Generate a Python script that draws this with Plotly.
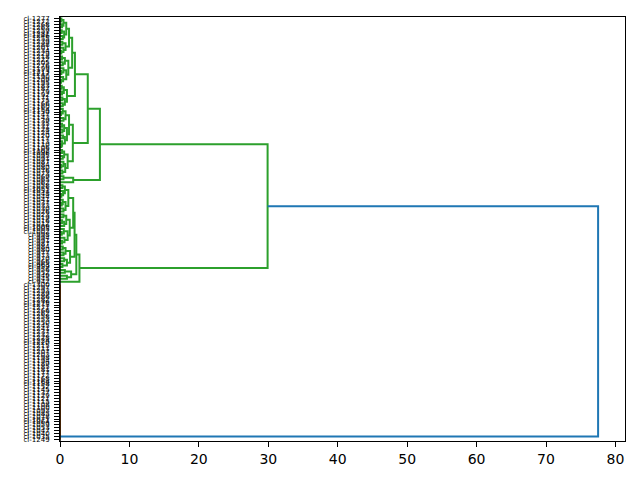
import plotly.graph_objects as go

# ---------------- data ----------------
LABEL_PREFIX = "cl-"

# Sub-clusters of the big (green) branch: [merge height, upper child, lower child]; ints = leaf ids
E1 = [1.3,
      [0.9, [0.5, [0.2, 1277, 1272], [0.3, 1268, 1263]], [0.6, [0.25, 1259, 1281], [0.4, 1246, 1255]]],
      [0.8, [0.35, 1239, 1288], [0.5, 1201, [0.2, 1234, 1229]]]]
E2 = [1.2,
      [0.7, [0.3, 1218, 1222], [0.4, 1205, 1276]],
      [0.9, [0.5, 1199, [0.2, 1213, 1217]], [0.45, 1190, [0.15, 1209, 1195]]]]
D2 = [1.0,
      [0.55, [0.25, 1183, 1187], [0.3, 1179, 1192]],
      [0.7, [0.35, 1171, 1175], [0.4, 1166, 1160]]]
F1 = [1.3,
      [0.8, [0.4, 1154, [0.15, 1150, 1147]], [0.5, 1143, 1139]],
      [1.0, [0.6, [0.3, 1135, 1131], [0.35, 1128, 1124]],
       [0.7, [0.45, 1120, 1117], [0.3, 1113, [0.2, 1110, 1106]]]]]
F2 = [1.1,
      [0.6, [0.3, 1102, 1098], [0.4, 1095, 1091]],
      [0.75, [0.5, 1087, [0.2, 1084, 1080]], [0.35, 1076, 1073]]]
B2 = [1.9, [0.5, 1069, 1065], 1062]
I1 = [1.2,
      [0.7, [0.35, 1058, 1055], [0.45, 1051, [0.2, 1048, 1044]]],
      [0.8, [0.4, 1041, [0.25, 1037, 1033]], [0.5, 1030, 1026]]]
I2 = [1.4,
      [0.9, [0.5, 1023, 1019], [0.6, [0.3, 1016, 1012], 1009]],
      [1.1, [0.55, 1005, [0.25, 1002, 998]], [0.65, 994, [0.3, 991, 987]]]]
H2 = [1.45,
      [0.8, [0.4, 984, 980], [0.5, 977, 973]],
      [1.0, [0.6, 970, 966], [0.35, 963, 959]]]
G2 = [1.6, [0.7, 956, 952], [1.0, 949, 945]]
LONE_LEAF = 942

# upper-level merge heights
h_D1, h_C1, h_C2, h_B1, h_A1 = 1.75, 2.15, 1.85, 4.0, 5.75
h_H1, h_G1, h_A2a, h_A2 = 1.9, 2.1, 2.35, 2.8
h_A = 29.9
h_root = 77.5

# duplicated points merged at distance 0 (bottom cluster)
zero_group_ids = [1300, 1297, 1293, 1289, 1286, 1282, 1279, 1275, 1271, 1266,
                  1262, 1258, 1253, 1250, 1245, 1241, 1237, 1232, 1228, 1224,
                  1220, 1215, 1211, 1207, 1203, 1198, 1194, 1189, 1185, 1181,
                  1177, 1172, 1168, 1164, 1158, 1152, 1145, 1137, 1129, 1121,
                  1115, 1108, 1100, 1093, 1085, 1078, 1071, 1064, 1059, 1053,
                  1047, 1040, 1035, 1249]
zero_group_heights = [0.0, 0.0, 0.0, 0.0, 0.0, 0.0, 0.0, 0.0, 0.0, 0.0,
                      0.0, 0.0, 0.0, 0.0, 0.0, 0.0, 0.0, 0.0, 0.0, 0.0,
                      0.0, 0.0, 0.0, 0.0, 0.0, 0.0, 0.0, 0.0, 0.0, 0.0,
                      0.0, 0.0, 0.0, 0.0, 0.0, 0.0, 0.0, 0.0, 0.0, 0.0,
                      0.0, 0.0, 0.0, 0.0, 0.0, 0.0, 0.0, 0.0, 0.0, 0.0,
                      0.0, 0.0, 0.0]

x_ticks = [0, 10, 20, 30, 40, 50, 60, 70, 80]

COLOR_ABOVE = "#1f77b4"
COLOR_Z = "#ff7f0e"
COLOR_A = "#2ca02c"

# ---------------- tree assembly ----------------
D1 = [h_D1, E1, E2]
C1 = [h_C1, D1, D2]
C2 = [h_C2, F1, F2]
B1 = [h_B1, C1, C2]
A1 = [h_A1, B1, B2]
H1 = [h_H1, I1, I2]
G1 = [h_G1, H1, H2]
A2a = [h_A2a, G1, G2]
A2 = [h_A2, A2a, LONE_LEAF]
A = [h_A, A1, A2]

Z = zero_group_ids[0]
for leaf, h in zip(zero_group_ids[1:], zero_group_heights):
    Z = [h, Z, leaf]


def count(node):
    return 1 if isinstance(node, int) else count(node[1]) + count(node[2])


n = count(A) + count(Z)
order = []
segs = {COLOR_ABOVE: ([], []), COLOR_A: ([], []), COLOR_Z: ([], [])}


def walk(node, color):
    if isinstance(node, int):
        i = len(order)
        order.append(node)
        return 10 * n - 5 - 10 * i, 0.0
    h, up, lo = node
    yu, hu = walk(up, color)
    yl, hl = walk(lo, color)
    xs, ys = segs[color]
    xs += [hu, h, h, hl, None]
    ys += [yu, yu, yl, yl, None]
    return (yu + yl) / 2, h


ya, ha = walk(A, COLOR_A)
yz, hz = walk(Z, COLOR_Z)
xs, ys = segs[COLOR_ABOVE]
xs += [ha, h_root, h_root, hz, None]
ys += [ya, ya, yz, yz, None]

tick_vals = [10 * n - 5 - 10 * i for i in range(n)]
tick_text = [LABEL_PREFIX + str(v) for v in order]

# ---------------- figure ----------------
fig = go.Figure()
for color in (COLOR_Z, COLOR_A, COLOR_ABOVE):
    fx, fy = segs[color]
    fig.add_trace(go.Scatter(x=fx, y=fy, mode="lines",
                             line=dict(color=color, width=2),
                             hoverinfo="skip", showlegend=False))

fig.update_layout(
    width=640, height=480,
    margin=dict(l=60, r=15, t=17, b=39),
    paper_bgcolor="white", plot_bgcolor="white",
    font=dict(family="DejaVu Sans", color="black"),
    showlegend=False,
    shapes=[dict(type="line", xref="x", yref="paper", x0=0, x1=0, y0=0, y1=1,
                 line=dict(color="black", width=1.5), layer="above")],
)
fig.update_xaxes(
    range=[0, h_root * 1.05], tickvals=x_ticks, ticktext=[str(v) for v in x_ticks],
    showgrid=False, zeroline=False, showline=True, linecolor="black", linewidth=1,
    mirror=True, ticks="outside", ticklen=5, tickwidth=1, tickcolor="black",
    tickfont=dict(size=14, family="DejaVu Sans"), automargin=False,
)
fig.update_yaxes(
    range=[0, 10 * n], tickvals=tick_vals, ticktext=tick_text,
    showgrid=False, zeroline=False, showline=True, linecolor="black", linewidth=1,
    mirror=True, ticks="outside", ticklen=5, tickwidth=1, tickcolor="black",
    tickfont=dict(size=7, family="DejaVu Sans"), automargin=False,
    ticklabelstandoff=3,
)

fig.write_html("out.html", config={"displayModeBar": False, "staticPlot": True},
               post_script="document.body.style.margin='0';document.body.style.padding='0';")
